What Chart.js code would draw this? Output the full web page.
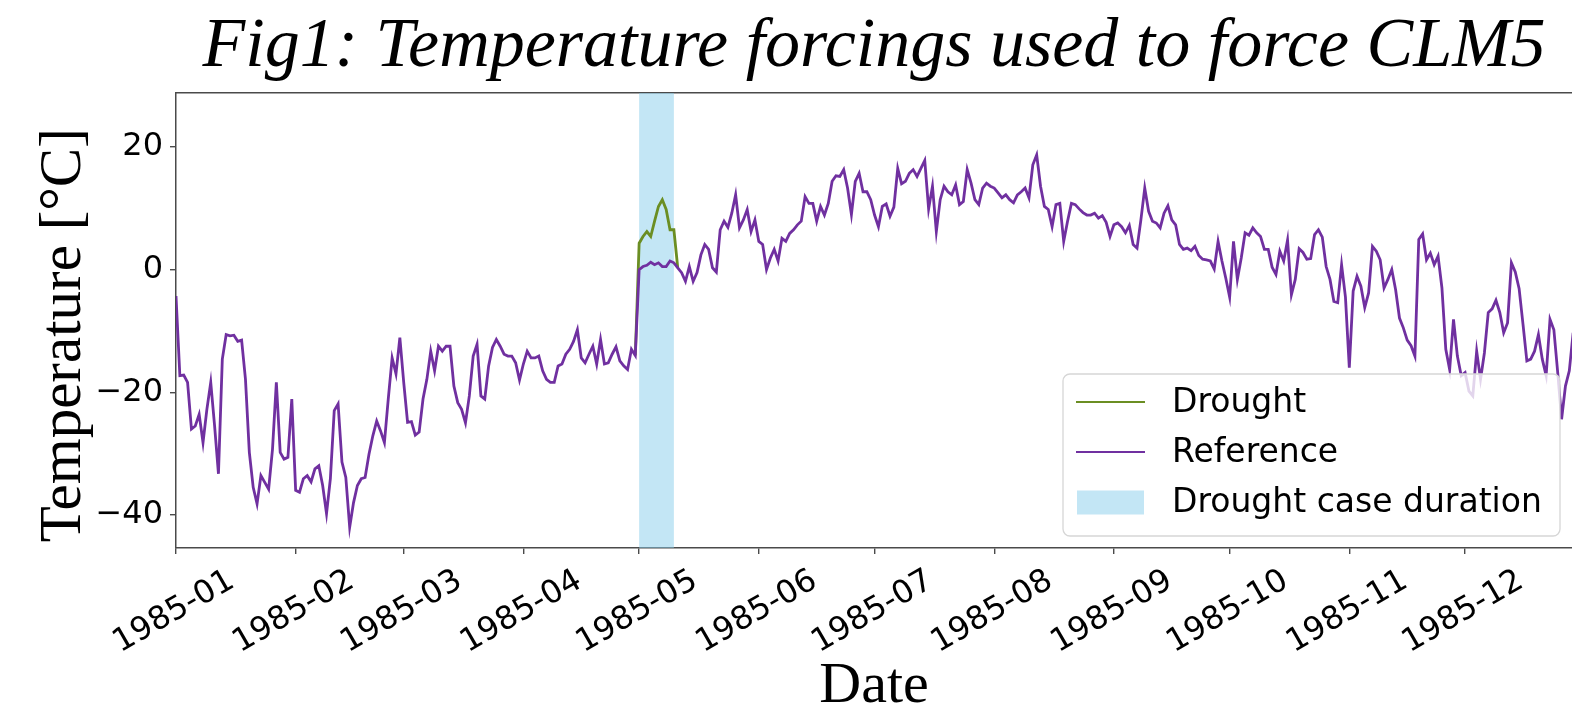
<!DOCTYPE html>
<html>
<head>
<meta charset="utf-8">
<script src="https://cdn.jsdelivr.net/npm/chart.js@4.4.1/dist/chart.umd.min.js"></script>
<style>
html,body{margin:0;padding:0;background:#fff;overflow:hidden}
#wrap{width:1572px;height:713px;position:relative}
</style>
</head>
<body>
<div id="wrap"><canvas id="c" width="1572" height="713"></canvas></div>
<script>
// ---------- data ----------
const titleText = 'Fig1: Temperature forcings used to force CLM5';
const xAxisTitle = 'Date';
const yAxisTitle = 'Temperature [°C]';

// x tick labels and the day-of-year (from 1985-01-01) where each month starts
const monthLabels = ['1985-01','1985-02','1985-03','1985-04','1985-05','1985-06',
                     '1985-07','1985-08','1985-09','1985-10','1985-11','1985-12'];
const monthStartDays = [0,31,59,90,120,151,181,212,243,273,304,334];

// y tick values
const yTickValues = [-40,-20,0,20];

// Reference temperature, one value per day from 1985-01-01 (°C)
const refTemp = [
 -4.3,-17.3,-17.2,-18.4,-26.0,-25.5,-23.6,-28.2,-22.8,-18.4,
 -25.5,-33.3,-14.6,-10.6,-10.8,-10.7,-11.7,-11.5,-17.9,-29.8,
 -35.5,-38.2,-33.6,-34.7,-35.8,-29.3,-18.4,-29.8,-30.9,-30.6,
 -21.1,-36.0,-36.3,-34.1,-33.6,-34.6,-32.5,-32.0,-35.2,-39.8,
 -34.1,-23.0,-21.9,-31.4,-33.9,-42.0,-38.0,-35.2,-34.1,-33.9,
 -30.1,-27.1,-24.7,-26.3,-28.2,-21.1,-14.4,-17.0,-11.1,-18.4,
 -24.9,-24.8,-27.0,-26.5,-21.1,-17.9,-13.3,-16.5,-12.5,-13.3,
 -12.5,-12.5,-19.0,-21.7,-22.8,-25.0,-20.6,-14.1,-12.2,-20.6,
 -21.1,-15.7,-12.7,-11.4,-12.5,-13.8,-14.1,-14.1,-15.2,-18.0,
 -15.4,-13.3,-14.4,-14.4,-14.1,-16.5,-17.9,-18.4,-18.4,-15.7,
 -15.4,-13.8,-13.0,-11.7,-9.8,-14.4,-15.2,-13.8,-12.5,-15.4,
 -11.4,-15.4,-15.2,-13.8,-12.6,-14.9,-15.7,-16.3,-13.0,-14.0,
 0.0,0.5,0.7,1.2,0.8,1.1,0.5,0.5,1.4,1.1,
 0.3,-0.5,-1.9,0.5,-1.9,-0.5,2.4,4.1,3.3,0.3,
 -0.4,6.5,7.9,6.9,9.2,12.2,6.8,8.1,9.8,6.2,
 8.1,4.6,4.1,0.0,1.9,3.3,1.4,5.1,4.6,5.9,
 6.5,7.3,7.9,11.9,10.8,10.8,7.9,10.3,8.9,10.8,
 14.4,15.3,15.2,16.3,13.3,9.0,14.4,15.7,12.7,12.7,
 11.4,8.9,7.0,10.3,10.7,8.7,10.2,16.5,14.0,14.4,
 15.7,16.3,15.2,16.5,17.8,9.9,13.6,6.2,11.4,13.6,
 12.7,12.2,13.8,10.6,11.1,16.3,14.1,11.4,10.6,13.3,
 14.1,13.6,13.3,12.5,11.7,12.2,11.4,10.9,12.2,12.7,
 13.3,11.7,17.1,18.7,13.6,10.3,9.8,7.0,10.6,10.8,
 4.6,7.9,10.8,10.6,9.9,9.3,8.9,8.9,9.2,8.4,
 8.8,7.7,5.4,7.3,7.6,7.0,6.0,7.2,4.1,3.5,
 8.1,13.3,9.5,7.9,7.6,6.8,9.2,10.4,8.1,7.3,
 4.1,3.3,3.5,3.1,3.8,2.3,1.7,1.6,1.4,0.1,
 4.6,1.4,-1.4,-4.5,4.6,-1.6,1.9,6.0,5.6,6.8,
 6.0,5.4,3.3,3.3,0.4,-0.8,3.0,1.4,4.8,-4.1,
 -1.6,3.4,2.8,1.7,1.8,5.7,6.5,5.3,0.5,-1.6,
 -5.2,-5.4,0.8,-4.5,-16.0,-3.5,-1.1,-2.7,-6.2,-3.8,
 3.8,3.0,1.6,-3.0,-1.6,0.0,-3.3,-7.9,-9.5,-11.5,
 -12.4,-14.1,4.9,5.8,1.6,2.7,0.8,2.2,-3.0,-13.0,
 -16.3,-8.1,-14.1,-17.3,-16.8,-19.8,-20.6,-13.3,-17.9,-13.6,
 -7.0,-6.4,-5.0,-7.0,-10.3,-8.7,1.1,-0.4,-3.1,-8.9,
 -14.9,-14.6,-13.3,-10.6,-14.6,-17.3,-8.1,-9.8,-16.8,-24.4,
 -19.0,-16.5,-10.3
];

// Drought case: temperature during the drought window (°C), days 120..129
const droughtStartDay = 120;       // 1985-05-01
const droughtEndDay = 129;         // ~1985-05-10 (end of shaded duration)
const droughtWindowTemp = [4.3,5.4,6.2,5.4,7.9,10.3,11.4,9.8,6.5,6.5];

const xMaxDay = 361.7;
const yMin = -45.4, yMax = 28.8;

// ---------- styles ----------
const PURPLE = '#7030a0';
const GREEN = '#6b8e23';
const BAND = 'rgba(135,206,235,0.5)';
const SPINE = '#4a4a4a';

// ---------- build datasets ----------
const refPoints = refTemp.map((v, i) => ({x: i, y: v}));
const droughtPoints = [];
for (let i = droughtStartDay - 1; i <= droughtStartDay + droughtWindowTemp.length; i++) {
  const k = i - droughtStartDay;
  const v = (k >= 0 && k < droughtWindowTemp.length) ? droughtWindowTemp[k] : refTemp[i];
  droughtPoints.push({x: i, y: v});
}

const bandPlugin = {
  id: 'band',
  beforeDatasetsDraw(chart) {
    const {ctx, chartArea, scales} = chart;
    const x0 = scales.x.getPixelForValue(droughtStartDay);
    const x1 = scales.x.getPixelForValue(droughtEndDay);
    ctx.save();
    ctx.fillStyle = BAND;
    ctx.fillRect(x0, chartArea.top, x1 - x0, chartArea.bottom - chartArea.top);
    ctx.restore();
  }
};

const legendItems = [
  {label: 'Drought', type: 'line', color: GREEN},
  {label: 'Reference', type: 'line', color: PURPLE},
  {label: 'Drought case duration', type: 'patch', color: BAND}
];

const boxLegendPlugin = {
  id: 'boxLegend',
  afterDatasetsDraw(chart) {
    const {ctx, chartArea} = chart;
    const right = chartArea.right - 12, bottom = chartArea.bottom - 12;
    const w = 497, h = 162;
    const left = right - w, top = bottom - h;
    ctx.save();
    ctx.beginPath();
    ctx.roundRect(left, top, w, h, 7);
    ctx.fillStyle = 'rgba(255,255,255,0.8)';
    ctx.fill();
    ctx.lineWidth = 1.3;
    ctx.strokeStyle = '#d6d6d6';
    ctx.stroke();
    ctx.font = '33px "DejaVu Sans"';
    ctx.textBaseline = 'middle';
    ctx.textAlign = 'left';
    const rowY = [top + 28, top + 78, top + 128.5];
    legendItems.forEach((it, i) => {
      const y = rowY[i];
      if (it.type === 'line') {
        ctx.beginPath();
        ctx.moveTo(left + 13, y);
        ctx.lineTo(left + 82, y);
        ctx.strokeStyle = it.color;
        ctx.lineWidth = 2.2;
        ctx.stroke();
      } else {
        ctx.fillStyle = it.color;
        ctx.fillRect(left + 14, y - 12, 67, 24);
      }
      ctx.fillStyle = '#000';
      ctx.fillText(it.label, left + 109, y + 1);
    });
    ctx.restore();
  }
};

const ctx = document.getElementById('c').getContext('2d');
new Chart(ctx, {
  type: 'line',
  data: {
    datasets: [
      {label: 'Reference', data: refPoints, borderColor: PURPLE, borderWidth: 2.8,
       pointRadius: 0, tension: 0, fill: false, order: 1},
      {label: 'Drought', data: droughtPoints, borderColor: GREEN, borderWidth: 2.8,
       pointRadius: 0, tension: 0, fill: false, order: 2}
    ]
  },
  options: {
    responsive: false,
    animation: false,
    devicePixelRatio: 1,
    layout: {padding: 0},
    plugins: {
      legend: {display: false},
      tooltip: {enabled: false},
      title: {
        display: true, text: titleText, color: '#000', fullSize: false,
        font: {family: 'Liberation Serif', style: 'italic', size: 70, lineHeight: 1, weight: 'normal'},
        padding: {top: 13, bottom: 10}
      }
    },
    scales: {
      x: {
        type: 'linear', position: 'bottom', min: 0, max: xMaxDay,
        afterBuildTicks: (axis) => { axis.ticks = monthStartDays.map(v => ({value: v})); },
        afterFit: (s) => { s.height = 165; },
        grid: {display: true, drawOnChartArea: false, drawTicks: true, tickLength: 6, color: SPINE, lineWidth: 1.4},
        border: {display: true, color: SPINE, width: 1.5},
        ticks: {
          autoSkip: false, minRotation: 30, maxRotation: 30, labelOffset: 56, padding: 8,
          color: '#000', font: {family: 'DejaVu Sans', size: 32},
          callback: (v) => { const k = monthStartDays.indexOf(v); return k >= 0 ? monthLabels[k] : ''; }
        },
        title: {display: true, text: xAxisTitle, color: '#000',
          font: {family: 'Liberation Serif', size: 58, lineHeight: 0.9}, padding: {top: 0, bottom: 0}}
      },
      xTop: {
        type: 'linear', position: 'top', min: 0, max: xMaxDay,
        afterFit: (s) => { s.height = 0; },
        grid: {display: false},
        ticks: {display: false},
        border: {display: true, color: SPINE, width: 1.5}
      },
      y: {
        type: 'linear', position: 'left', min: yMin, max: yMax,
        afterBuildTicks: (axis) => { axis.ticks = yTickValues.map(v => ({value: v})); },
        afterFit: (s) => { s.width = 176; },
        grid: {display: true, drawOnChartArea: false, drawTicks: true, tickLength: 6, color: SPINE, lineWidth: 1.4},
        border: {display: true, color: SPINE, width: 1.5},
        ticks: {
          color: '#000', font: {family: 'DejaVu Sans', size: 32}, padding: 7,
          callback: (v) => (v < 0 ? '\u2212' + Math.abs(v) : String(v))
        },
        title: {display: true, text: yAxisTitle + '\u2002', color: '#000',
          font: {family: 'Liberation Serif', size: 59, lineHeight: 1}, padding: {top: 35, bottom: 0}}
      }
    }
  },
  plugins: [bandPlugin, boxLegendPlugin]
});
</script>
</body>
</html>
